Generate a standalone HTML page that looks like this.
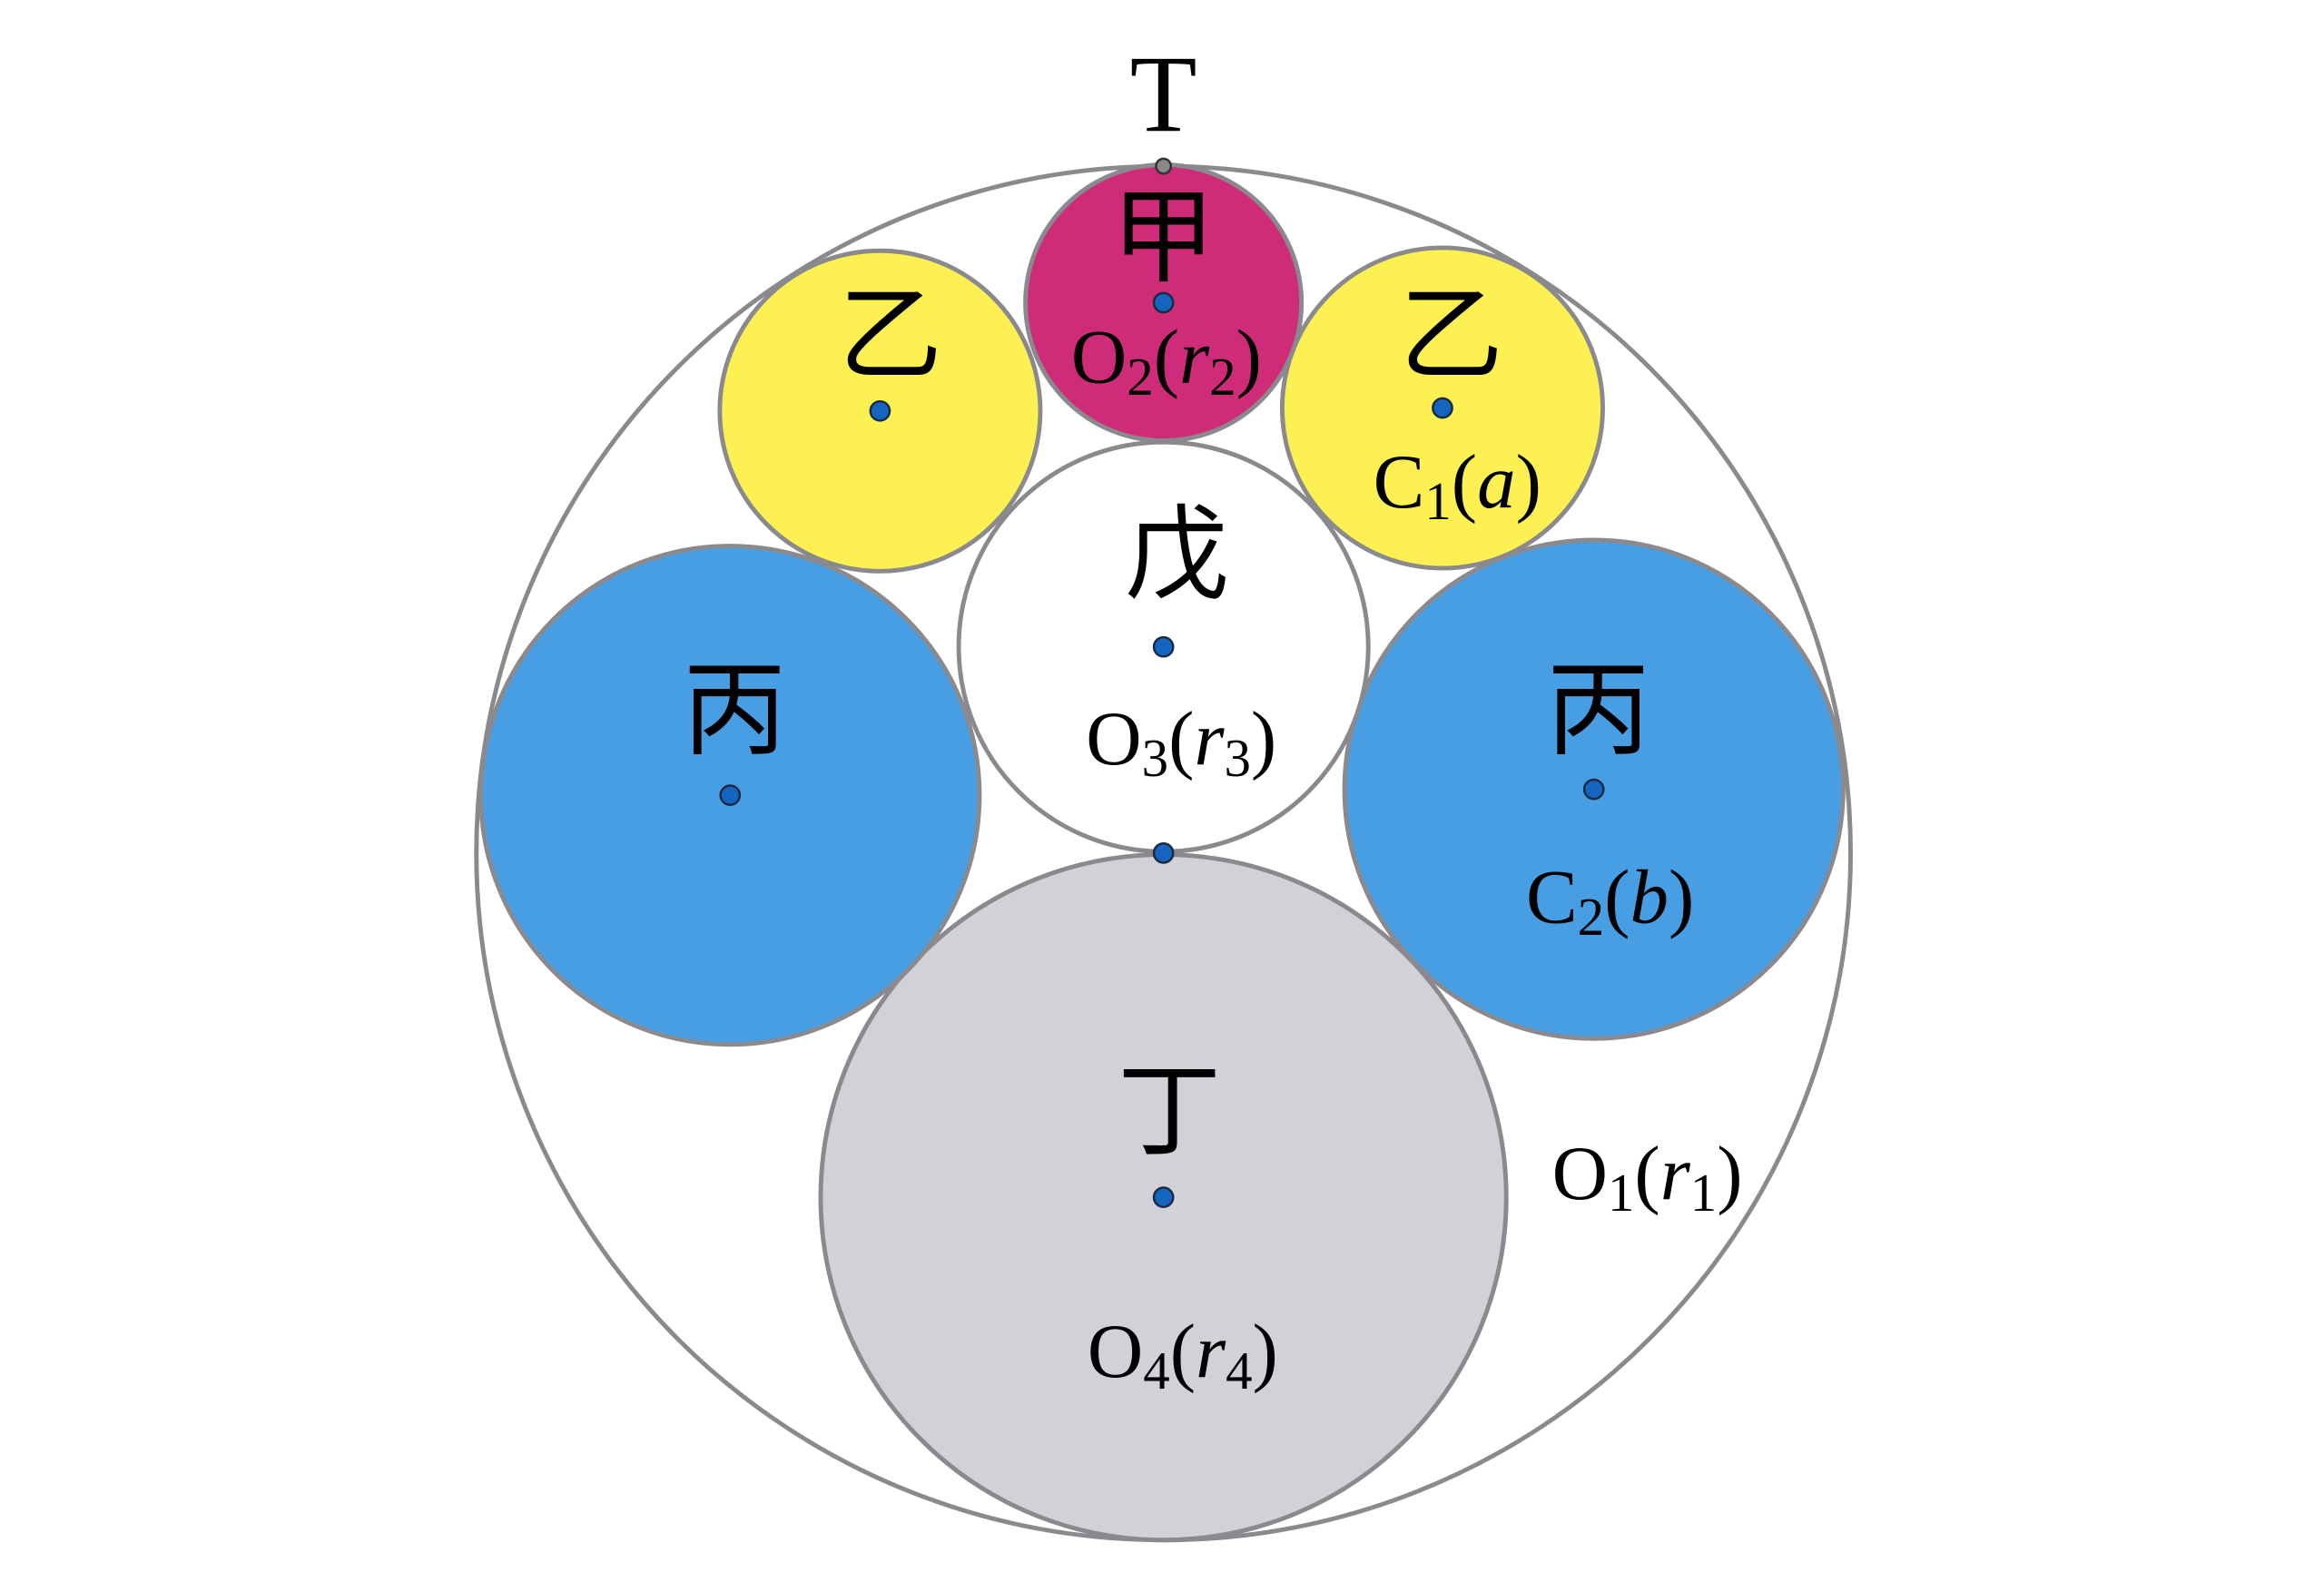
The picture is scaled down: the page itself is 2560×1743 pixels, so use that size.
<!DOCTYPE html>
<html><head><meta charset="utf-8"><style>
html,body{margin:0;padding:0;background:#fff;}
svg{display:block;}
.m{font-family:"Liberation Serif",serif;font-size:52px;fill:#000;}
.c{font-family:"Liberation Sans","Noto Sans CJK SC",sans-serif;font-size:70px;fill:#000;}
</style></head><body>
<svg width="2560" height="1743" viewBox="0 0 1566 1066.3" preserveAspectRatio="none" xmlns="http://www.w3.org/2000/svg">
<g stroke="#8a8a8e" stroke-width="3">
<circle cx="784" cy="575" r="463" fill="#fff"/>
<circle cx="784" cy="807" r="231" fill="#d1d1d7"/>
<circle cx="492" cy="536" r="168" fill="#489ee2"/>
<circle cx="1074" cy="532" r="168" fill="#489ee2"/>
<circle cx="784" cy="436" r="138" fill="#fff"/>
<circle cx="593" cy="277" r="108" fill="#fdf052"/>
<circle cx="972" cy="275" r="108" fill="#fdf052"/>
<circle cx="784" cy="204" r="93" fill="#ce2c78"/>
</g>
<g fill="#1565c0" stroke="#1a2a40" stroke-width="1.5">
<circle cx="784" cy="204" r="6.5"/>
<circle cx="593" cy="277" r="6.5"/>
<circle cx="972" cy="275" r="6.5"/>
<circle cx="784" cy="436" r="6.5"/>
<circle cx="492" cy="536" r="6.5"/>
<circle cx="1074" cy="532" r="6.5"/>
<circle cx="784" cy="575" r="6.5"/>
<circle cx="784" cy="807" r="6.5"/>
</g>
<circle cx="784" cy="112" r="5" fill="#888" stroke="#333" stroke-width="1.5"/>
<text x="784" y="88" class="m" style="font-size:74px" text-anchor="middle">T</text>
<text x="784" y="184" class="c" text-anchor="middle">甲</text>
<text x="600" y="250" class="c" text-anchor="middle">乙</text>
<text x="978" y="250" class="c" text-anchor="middle">乙</text>
<text x="793" y="398" class="c" text-anchor="middle">戊</text>
<text x="495" y="503" class="c" text-anchor="middle">丙</text>
<text x="1077" y="503" class="c" text-anchor="middle">丙</text>
<text x="788" y="773" class="c" text-anchor="middle">丁</text>
<text x="786" y="258" class="m" text-anchor="middle">O<tspan font-size="36" dy="8">2</tspan><tspan dy="-8">(</tspan><tspan font-style="italic">r</tspan><tspan font-size="36" dy="8">2</tspan><tspan dy="-8">)</tspan></text>
<text x="982" y="342" class="m" text-anchor="middle">C<tspan font-size="36" dy="8">1</tspan><tspan dy="-8">(</tspan><tspan font-style="italic">a</tspan>)</text>
<text x="796" y="515" class="m" text-anchor="middle">O<tspan font-size="36" dy="8">3</tspan><tspan dy="-8">(</tspan><tspan font-style="italic">r</tspan><tspan font-size="36" dy="8">3</tspan><tspan dy="-8">)</tspan></text>
<text x="1085" y="622" class="m" text-anchor="middle">C<tspan font-size="36" dy="8">2</tspan><tspan dy="-8">(</tspan><tspan font-style="italic">b</tspan>)</text>
<text x="1110" y="808" class="m" text-anchor="middle">O<tspan font-size="36" dy="8">1</tspan><tspan dy="-8">(</tspan><tspan font-style="italic">r</tspan><tspan font-size="36" dy="8">1</tspan><tspan dy="-8">)</tspan></text>
<text x="797" y="928" class="m" text-anchor="middle">O<tspan font-size="36" dy="8">4</tspan><tspan dy="-8">(</tspan><tspan font-style="italic">r</tspan><tspan font-size="36" dy="8">4</tspan><tspan dy="-8">)</tspan></text>
</svg>
</body></html>
